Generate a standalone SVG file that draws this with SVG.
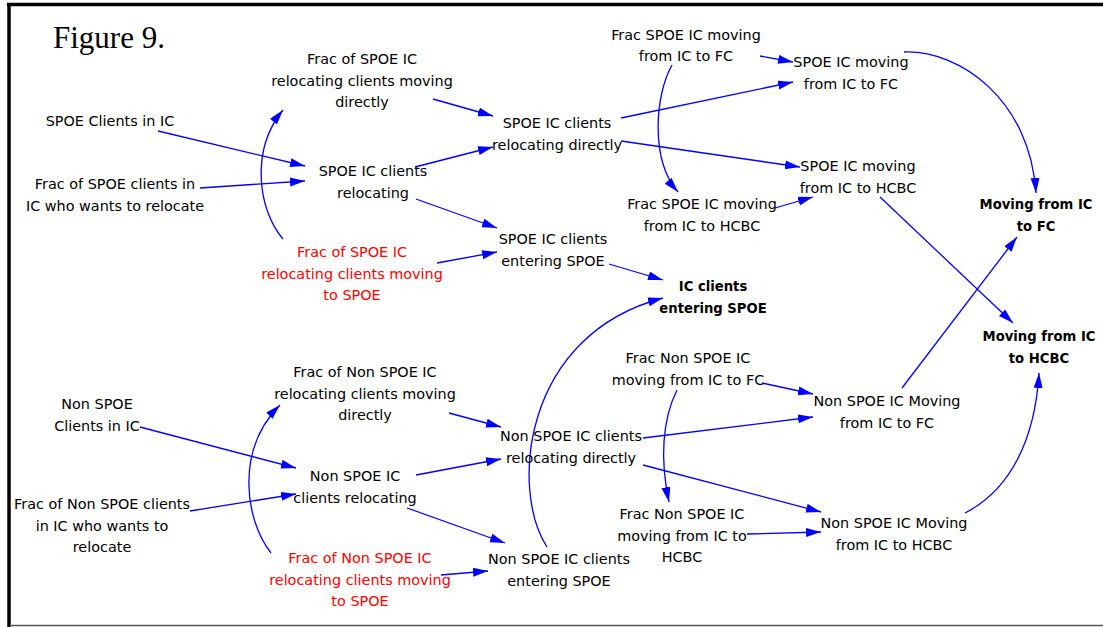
<svg xmlns="http://www.w3.org/2000/svg" width="1103" height="627" viewBox="0 0 1103 627">
  <style>
    .t { font-family: "DejaVu Sans", "Liberation Sans", sans-serif; font-size: 14.4px; text-anchor: middle; fill: #000; }
    .red { fill: #ff0000; }
    .b { font-weight: bold; font-size: 13.2px; }
    .title { font-family: "Liberation Serif", "Times New Roman", serif; font-size: 31px; fill: #000; }
    .c { fill: none; stroke: #0000ff; stroke-width: 1.3; marker-end: url(#ah); }
  </style>
  <defs>
    <marker id="ah" markerUnits="userSpaceOnUse" markerWidth="16" markerHeight="10" refX="15" refY="4.5" orient="auto">
      <path d="M0,0 L15,4.5 L0,9 Z" fill="#0000ff"/>
    </marker>
  </defs>

  <!-- frame -->
  <rect x="0" y="0" width="1103" height="627" fill="#fff"/>
  <line x1="7" y1="4.5" x2="1103" y2="4.5" stroke="#000" stroke-width="3.5"/>
  <line x1="9" y1="3" x2="9" y2="627" stroke="#000" stroke-width="3.5"/>
  <line x1="10" y1="625.5" x2="1103" y2="625.5" stroke="#555" stroke-width="1.5"/>

  <text class="title" x="53" y="48">Figure 9.</text>

  <!-- connectors -->
  <g id="connectors">
    <!-- SPOE half -->
    <path class="c" d="M158,131 L305,166"/>
    <path class="c" d="M200,188 L305,181"/>
    <path class="c" d="M283,239 C258,210 250,150 283,110"/>
    <path class="c" d="M433,99 L493,116"/>
    <path class="c" d="M415,167 L493,147"/>
    <path class="c" d="M416,199 L497,228"/>
    <path class="c" d="M437,263 L497,252"/>
    <path class="c" d="M609,264 L663,280"/>
    <path class="c" d="M621,118 L793,82"/>
    <path class="c" d="M621,141 L800,167"/>
    <path class="c" d="M760,56 L793,62"/>
    <path class="c" d="M672,65 C655,95 650,160 678,192"/>
    <path class="c" d="M775,208 L813,197"/>
    <path class="c" d="M904,52 C960,50 1030,100 1036,193"/>
    <path class="c" d="M880,197 L1013,323"/>
    <path class="c" d="M902,388 L1017,237"/>
    <path class="c" d="M547,547 C510,490 522,335 663,298"/>
    <!-- Non SPOE half -->
    <path class="c" d="M140,427 L296,468"/>
    <path class="c" d="M190,511 L296,494"/>
    <path class="c" d="M271,553 C245,520 235,450 280,405"/>
    <path class="c" d="M449,413 L501,427"/>
    <path class="c" d="M416,475 L501,459"/>
    <path class="c" d="M407,508 L505,543"/>
    <path class="c" d="M441,575 L488,571"/>
    <path class="c" d="M643,438 L813,417"/>
    <path class="c" d="M643,465 L821,512"/>
    <path class="c" d="M762,383 L813,394"/>
    <path class="c" d="M677,390 C662,420 660,460 669,502"/>
    <path class="c" d="M747,534 L821,532"/>
    <path class="c" d="M965,513 C1010,490 1035,440 1039,373"/>
  </g>

  <!-- SPOE nodes -->
  <g id="spoe-clients-in-ic"><text class="t" x="110" y="126">SPOE Clients in IC</text></g>
  <g id="frac-spoe-wants-relocate"><text class="t" x="115" y="189"><tspan x="115">Frac of SPOE clients in</tspan><tspan x="115" dy="21.5">IC who wants to relocate</tspan></text></g>
  <g id="frac-spoe-directly"><text class="t" x="362" y="64"><tspan x="362">Frac of SPOE IC</tspan><tspan x="362" dy="21.5">relocating clients moving</tspan><tspan x="362" dy="21.5">directly</tspan></text></g>
  <g id="spoe-relocating"><text class="t" x="373" y="176"><tspan x="373">SPOE IC clients</tspan><tspan x="373" dy="21.5">relocating</tspan></text></g>
  <g id="frac-spoe-to-spoe"><text class="t red" x="352" y="257"><tspan x="352">Frac of SPOE IC</tspan><tspan x="352" dy="21.5">relocating clients moving</tspan><tspan x="352" dy="21.5">to SPOE</tspan></text></g>
  <g id="spoe-relocating-directly"><text class="t" x="557" y="128"><tspan x="557">SPOE IC clients</tspan><tspan x="557" dy="21.5">relocating directly</tspan></text></g>
  <g id="spoe-entering"><text class="t" x="553" y="244"><tspan x="553">SPOE IC clients</tspan><tspan x="553" dy="21.5">entering SPOE</tspan></text></g>
  <g id="ic-entering"><text class="t b" x="713" y="291"><tspan x="713">IC clients</tspan><tspan x="713" dy="21.5">entering SPOE</tspan></text></g>
  <g id="frac-spoe-fc"><text class="t" x="686" y="40"><tspan x="686">Frac SPOE IC moving</tspan><tspan x="686" dy="21">from IC to FC</tspan></text></g>
  <g id="spoe-fc"><text class="t" x="851" y="67"><tspan x="851">SPOE IC moving</tspan><tspan x="851" dy="21.5">from IC to FC</tspan></text></g>
  <g id="spoe-hcbc"><text class="t" x="858" y="171"><tspan x="858">SPOE IC moving</tspan><tspan x="858" dy="21.5">from IC to HCBC</tspan></text></g>
  <g id="frac-spoe-hcbc"><text class="t" x="702" y="209"><tspan x="702">Frac SPOE IC moving</tspan><tspan x="702" dy="21.5">from IC to HCBC</tspan></text></g>
  <g id="moving-fc"><text class="t b" x="1036" y="209"><tspan x="1036">Moving from IC</tspan><tspan x="1036" dy="22">to FC</tspan></text></g>
  <g id="moving-hcbc"><text class="t b" x="1039" y="341"><tspan x="1039">Moving from IC</tspan><tspan x="1039" dy="22">to HCBC</tspan></text></g>

  <!-- Non SPOE nodes -->
  <g id="non-spoe-clients-in-ic"><text class="t" x="97" y="409"><tspan x="97">Non SPOE</tspan><tspan x="97" dy="22">Clients in IC</tspan></text></g>
  <g id="frac-non-wants-relocate"><text class="t" x="102" y="509"><tspan x="102">Frac of Non SPOE clients</tspan><tspan x="102" dy="21.5">in IC who wants to</tspan><tspan x="102" dy="21.5">relocate</tspan></text></g>
  <g id="frac-non-directly"><text class="t" x="365" y="377"><tspan x="365">Frac of Non SPOE IC</tspan><tspan x="365" dy="21.5">relocating clients moving</tspan><tspan x="365" dy="21.5">directly</tspan></text></g>
  <g id="non-relocating"><text class="t" x="355" y="481"><tspan x="355">Non SPOE IC</tspan><tspan x="355" dy="22">clients relocating</tspan></text></g>
  <g id="frac-non-to-spoe"><text class="t red" x="360" y="563"><tspan x="360">Frac of Non SPOE IC</tspan><tspan x="360" dy="21.5">relocating clients moving</tspan><tspan x="360" dy="21.5">to SPOE</tspan></text></g>
  <g id="non-relocating-directly"><text class="t" x="571" y="441"><tspan x="571">Non SPOE IC clients</tspan><tspan x="571" dy="22">relocating directly</tspan></text></g>
  <g id="non-entering"><text class="t" x="559" y="564"><tspan x="559">Non SPOE IC clients</tspan><tspan x="559" dy="21.5">entering SPOE</tspan></text></g>
  <g id="frac-non-fc"><text class="t" x="688" y="363"><tspan x="688">Frac Non SPOE IC</tspan><tspan x="688" dy="22">moving from IC to FC</tspan></text></g>
  <g id="non-fc"><text class="t" x="887" y="406"><tspan x="887">Non SPOE IC Moving</tspan><tspan x="887" dy="21.5">from IC to FC</tspan></text></g>
  <g id="frac-non-hcbc"><text class="t" x="682" y="519"><tspan x="682">Frac Non SPOE IC</tspan><tspan x="682" dy="21.5">moving from IC to</tspan><tspan x="682" dy="21.5">HCBC</tspan></text></g>
  <g id="non-hcbc"><text class="t" x="894" y="528"><tspan x="894">Non SPOE IC Moving</tspan><tspan x="894" dy="21.5">from IC to HCBC</tspan></text></g>
</svg>
